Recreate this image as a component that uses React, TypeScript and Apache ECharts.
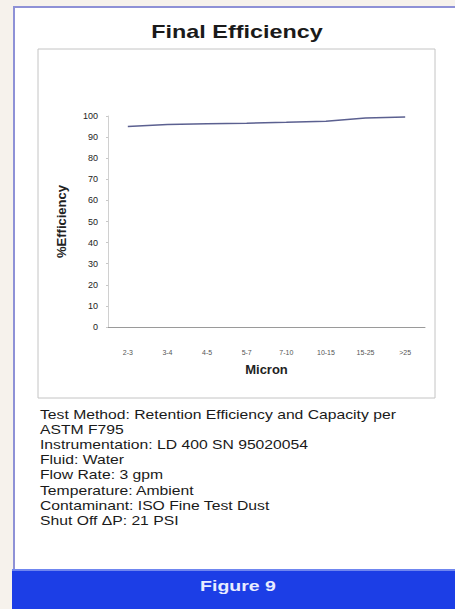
import React, { useEffect, useRef } from "react";
import * as echarts from "echarts";

const categories = ["2-3", "3-4", "4-5", "5-7", "7-10", "10-15", "15-25", ">25"];
const efficiency = [95, 96, 96.3, 96.6, 97, 97.5, 99, 99.5];
const yTicks = [0, 10, 20, 30, 40, 50, 60, 70, 80, 90, 100];
const notes = [
  "Test Method: Retention Efficiency and Capacity per",
  "ASTM F795",
  "Instrumentation: LD 400 SN 95020054",
  "Fluid: Water",
  "Flow Rate: 3 gpm",
  "Temperature: Ambient",
  "Contaminant: ISO Fine Test Dust",
  "Shut Off \u0394P: 21 PSI",
];

export default function App() {
  const ref = useRef<HTMLDivElement>(null);
  useEffect(() => {
    if (!ref.current) return;
    const chart = echarts.init(ref.current, null, { renderer: "svg" });
    const font = "'Liberation Sans', Arial, sans-serif";
    chart.setOption({
      animation: false,
      backgroundColor: "#f6f2ec",
      grid: { left: 108, right: 30, top: 116, bottom: 282 },
      xAxis: {
        type: "category",
        data: categories,
        name: "Micron",
        nameLocation: "middle",
        nameGap: 36,
        nameTextStyle: { fontFamily: font, fontSize: 13, fontWeight: "bold", color: "#222" },
        axisLine: { lineStyle: { color: "#9a9a9a", width: 1 } },
        axisTick: { show: false },
        axisLabel: { fontFamily: font, fontSize: 7, color: "#555", margin: 22 },
      },
      yAxis: {
        type: "value",
        min: 0,
        max: 100,
        interval: 10,
        name: "%Efficiency",
        nameLocation: "middle",
        nameGap: 40,
        nameRotate: 90,
        nameTextStyle: { fontFamily: font, fontSize: 13, fontWeight: "bold", color: "#222" },
        axisLine: { show: true, lineStyle: { color: "#d0d0d0" } },
        axisTick: { show: true, length: 2, lineStyle: { color: "#c8c8c8" } },
        splitLine: { show: false },
        axisLabel: {
          fontFamily: font,
          fontSize: 9,
          color: "#222",
          margin: 10,
          formatter: (v: number) => (yTicks.includes(v) ? String(v) : ""),
        },
      },
      series: [
        {
          type: "line",
          data: efficiency,
          symbol: "none",
          lineStyle: { color: "#5b6090", width: 1.5 },
          z: 5,
        },
      ],
      graphic: [
        {
          type: "rect",
          shape: { x: 14, y: 7, width: 460, height: 620 },
          style: { fill: "#ffffff", stroke: "#8e91d6", lineWidth: 2 },
          z: -10,
          silent: true,
        },
        {
          type: "rect",
          shape: { x: 38, y: 49, width: 397, height: 349 },
          style: { fill: "#ffffff", stroke: "#c4c4c4", lineWidth: 1 },
          z: -9,
          silent: true,
        },
        {
          type: "text",
          x: 237,
          y: 32,
          scaleX: 1.23,
          style: {
            text: "Final Efficiency",
            fill: "#1a1a1a",
            fontFamily: font,
            fontSize: 19,
            fontWeight: "bold",
            align: "center",
            verticalAlign: "middle",
          },
          z: 12,
        },
        {
          type: "rect",
          shape: { x: 12, y: 570, width: 443, height: 39 },
          style: { fill: "#1c3ee6" },
          z: 10,
          silent: true,
        },
        {
          type: "rect",
          shape: { x: 12, y: 569, width: 443, height: 2 },
          style: { fill: "#6f86f0" },
          z: 11,
          silent: true,
        },
        {
          type: "text",
          x: 238,
          y: 586,
          scaleX: 1.3,
          style: {
            text: "Figure 9",
            fill: "#e8ecff",
            fontFamily: font,
            fontSize: 15,
            fontWeight: "bold",
            align: "center",
            verticalAlign: "middle",
          },
          z: 12,
        },
        ...notes.map((t, i) => ({
          type: "text",
          x: 40,
          y: 414 + i * 15.2,
          scaleX: 1.21,
          style: {
            text: t,
            fill: "#1a1a1a",
            fontFamily: font,
            fontSize: 13,
            align: "left",
            verticalAlign: "middle",
          },
          z: 12,
        })),
      ],
    });
    return () => chart.dispose();
  }, []);
  return (
    <div
      ref={ref}
      style={{ position: "fixed", left: 0, top: 0, width: 455, height: 609 }}
    />
  );
}
